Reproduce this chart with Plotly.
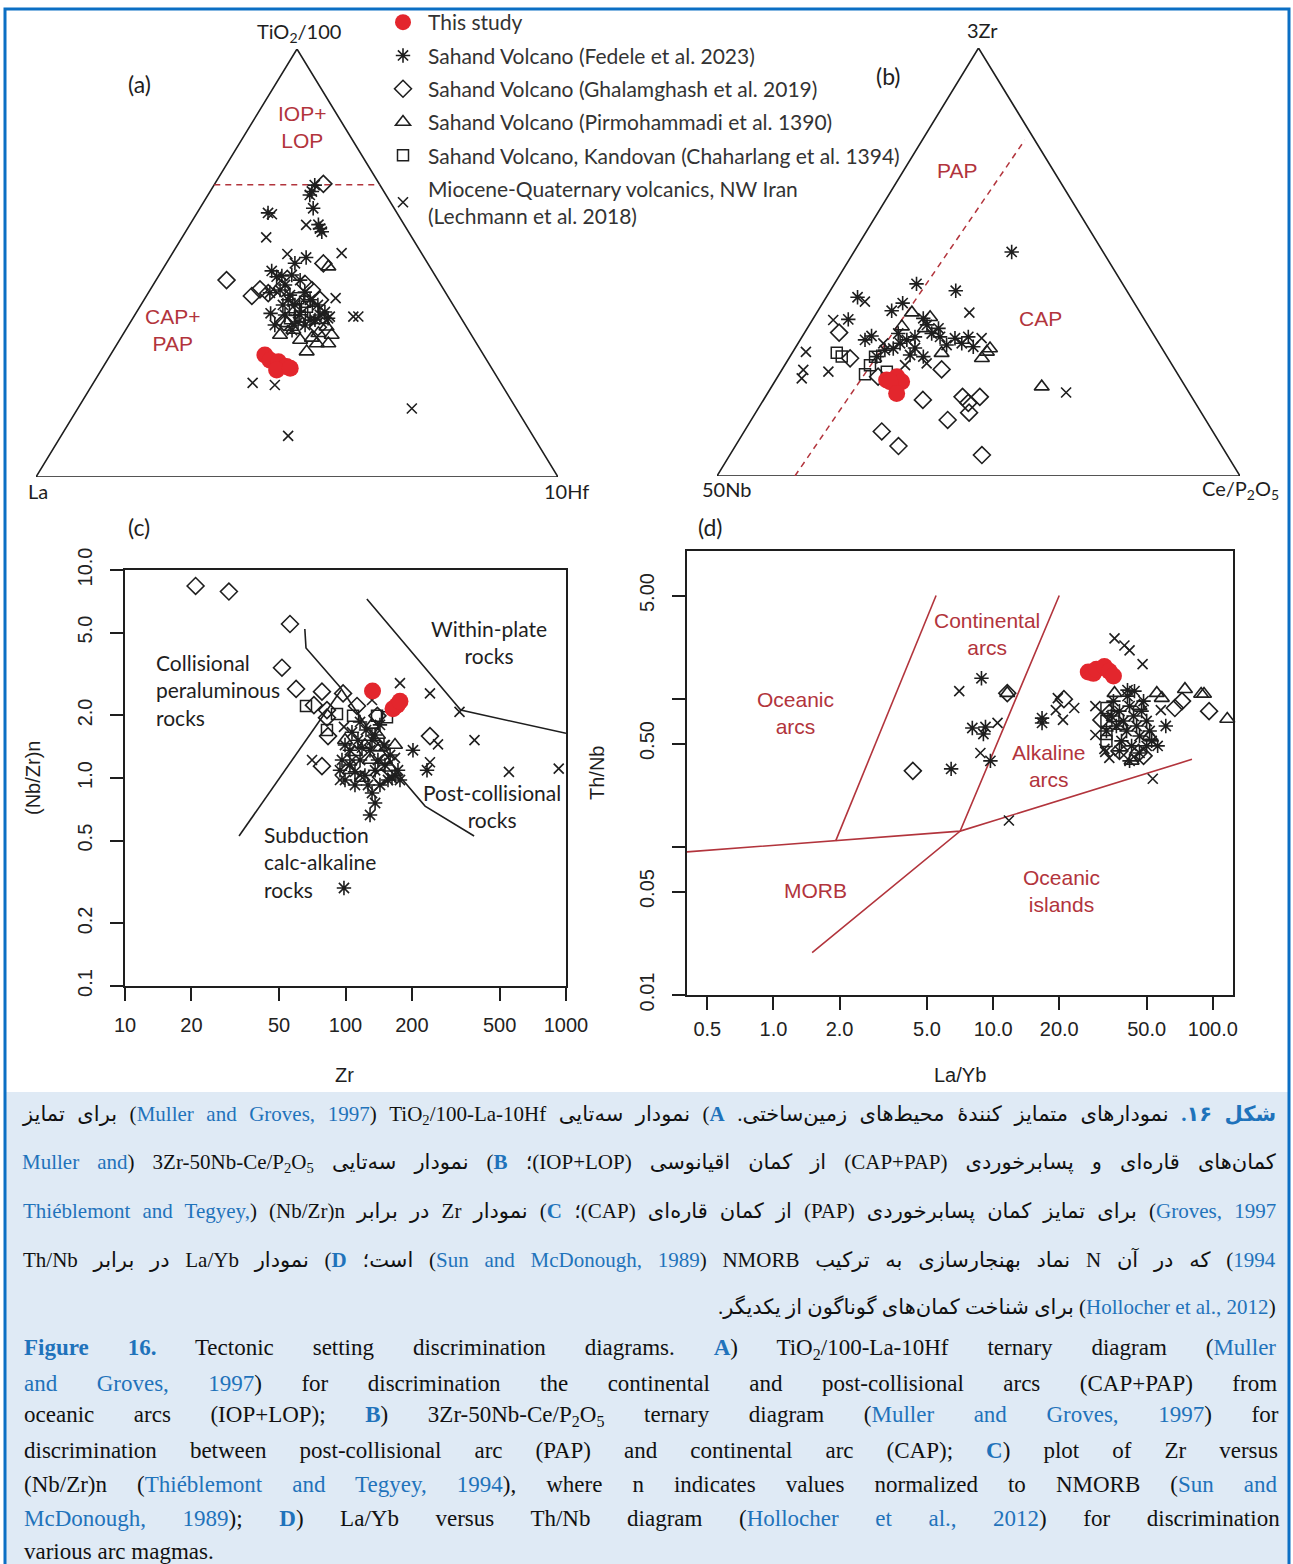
import math
import plotly.graph_objects as go

# ---------------- page geometry (pixels) ----------------
FIG_W, FIG_H = 1293, 1564
TRI_H = math.sqrt(3) / 2


def fx(p):
    return p / FIG_W


def fy(p):
    return 1 - p / FIG_H


RED = "#e3262d"
REGION_RED = "#b2343c"
INK = "#1e1e1e"
CITE_BLUE = "#1f73bb"
FRAME_BLUE = "#0b6fc4"
CAPTION_BG = "#dfeaf5"

# ---------------- series ----------------
NAMES = {
    "this": "This study",
    "fedele": "Sahand Volcano (Fedele et al. 2023)",
    "ghal": "Sahand Volcano (Ghalamghash et al. 2019)",
    "pirm": "Sahand Volcano (Pirmohammadi et al. 1390)",
    "chah": "Sahand Volcano, Kandovan (Chaharlang et al. 1394)",
    "lech": "Miocene-Quaternary volcanics, NW Iran<br>(Lechmann et al. 2018)",
}

# ---------------- (a) TiO2/100 - La - 10Hf, tuples = (TiO2/100, La, 10Hf) % ----------------
a_this_study = [(28.5, 41.9, 29.6), (27.3, 41.5, 31.2), (26.9, 40.1, 33.0),
                (25.8, 39.1, 35.1), (25.0, 41.4, 33.6), (25.4, 38.6, 36.0)]
a_fedele = [(68.2, 12.5, 19.3), (66.7, 13.8, 19.5), (65.9, 14.6, 19.5), (62.8, 15.5, 21.7),
            (58.9, 16.4, 24.6), (58.1, 16.6, 25.4), (57.3, 16.6, 26.1), (61.7, 24.7, 13.6),
            (51.3, 22.6, 26.1), (49.9, 25.4, 24.6), (48.2, 30.8, 21.1), (46.8, 30.5, 22.7),
            (47.0, 29.4, 23.6), (46.0, 26.4, 27.6), (43.1, 33.7, 23.3), (38.2, 35.9, 25.8),
            (44.9, 29.9, 25.3), (42.5, 30.1, 27.4), (40.2, 30.3, 29.5), (37.9, 30.5, 31.6),
            (35.5, 30.7, 33.8), (37.9, 33.4, 28.8), (41.4, 26.8, 31.8), (36.7, 28.2, 35.1),
            (41.4, 31.0, 27.6), (43.7, 31.4, 24.9), (36.2, 31.7, 32.1), (37.9, 26.7, 35.5),
            (47.2, 27.4, 25.4), (43.2, 26.9, 29.9), (40.2, 25.9, 33.9), (38.6, 25.4, 36.1),
            (36.7, 29.2, 34.2), (34.3, 33.8, 31.9), (40.2, 32.6, 27.2), (35.5, 36.5, 28.0),
            (37.1, 25.5, 37.4)]
a_ghalamghash = [(68.5, 10.7, 20.8), (46.0, 40.5, 13.5), (42.3, 37.5, 20.2), (43.9, 35.2, 21.0),
                 (42.9, 34.0, 23.0), (43.7, 25.3, 31.0), (45.1, 25.9, 29.0), (49.9, 20.0, 30.1),
                 (44.1, 30.9, 25.0), (40.0, 29.4, 30.6), (36.2, 34.4, 29.4), (35.0, 28.5, 36.5),
                 (41.4, 24.9, 33.7)]
a_pirmohammadi = [(49.1, 19.4, 31.4), (33.2, 36.7, 30.2), (29.3, 33.5, 37.2), (31.2, 30.6, 38.2),
                  (31.2, 28.4, 40.4), (33.2, 26.8, 40.1), (35.1, 26.8, 38.1), (33.6, 29.1, 37.3),
                  (34.3, 33.5, 32.1), (35.9, 34.0, 30.1), (36.7, 26.9, 36.5), (32.5, 30.9, 36.6),
                  (32.0, 33.4, 34.6)]
a_chaharlang = [(41.8, 28.9, 29.4), (41.0, 28.0, 31.1), (39.8, 28.2, 32.0),
                (39.0, 30.9, 30.1), (37.5, 30.7, 31.8), (38.6, 27.6, 33.8), (37.1, 32.8, 30.1)]
a_lechmann = [(61.4, 24.1, 14.5), (58.9, 18.8, 22.3), (56.0, 27.9, 16.1), (52.1, 25.8, 22.1),
              (52.3, 15.3, 32.4), (41.8, 21.7, 36.5), (37.5, 25.0, 37.6), (37.5, 20.5, 42.1),
              (37.5, 19.5, 43.0), (22.0, 47.5, 30.5), (21.5, 43.5, 35.0), (16.0, 20.0, 64.0),
              (9.6, 46.9, 43.5)]
a_boundary = [(68.3, 31.7, 0.0), (68.3, 0.0, 31.7)]          # IOP+LOP / CAP+PAP

# ---------------- (b) 3Zr - 50Nb - Ce/P2O5, tuples = (3Zr, 50Nb, Ce/P2O5) % ----------------
b_this_study = [(22.4, 56.3, 21.2), (23.2, 54.0, 22.8), (22.0, 53.7, 24.3),
                (22.0, 55.9, 22.1), (19.3, 56.0, 24.7)]
b_fedele = [(52.4, 17.5, 30.2), (44.9, 39.4, 15.7), (43.3, 32.7, 24.0), (41.8, 52.3, 6.0),
            (36.6, 56.6, 6.8), (38.6, 47.3, 14.1), (40.4, 44.3, 15.3), (31.8, 55.8, 12.4),
            (32.7, 54.1, 13.2), (33.3, 48.7, 18.0), (31.8, 47.8, 20.4), (32.5, 45.9, 21.6),
            (36.8, 42.1, 21.0), (33.3, 42.3, 24.4), (34.5, 40.4, 25.1), (30.6, 40.8, 28.6),
            (31.0, 37.7, 31.3), (32.5, 35.7, 31.8), (27.9, 46.6, 25.5), (29.8, 51.4, 18.8),
            (27.9, 55.5, 16.6), (31.0, 49.5, 19.5), (32.5, 41.1, 26.4), (30.2, 35.9, 33.9),
            (28.3, 49.0, 22.8), (29.9, 47.2, 22.9), (32.2, 38.4, 29.4), (29.4, 53.2, 17.4),
            (35.3, 42.2, 22.5)]
b_ghalamghash = [(33.5, 59.9, 6.6), (27.5, 60.8, 11.7), (24.9, 44.6, 30.5), (17.8, 51.8, 30.5),
                 (18.5, 43.8, 37.7), (18.5, 40.5, 41.0), (17.1, 43.4, 39.5), (14.8, 44.4, 40.8),
                 (13.1, 49.4, 37.6), (10.4, 63.3, 26.3), (7.0, 61.8, 31.2), (4.9, 46.9, 48.2),
                 (23.2, 57.6, 19.2)]
b_pirmohammadi = [(38.2, 43.7, 18.2), (37.1, 40.7, 22.2), (34.9, 47.2, 17.9), (34.5, 43.0, 22.5),
                  (28.7, 42.7, 28.6), (27.5, 35.6, 36.9), (29.0, 33.9, 37.1), (29.8, 32.9, 37.3),
                  (20.9, 27.5, 51.7)]
b_chaharlang = [(28.8, 62.7, 8.5), (27.9, 62.2, 9.9), (23.8, 59.8, 16.4),
                (25.9, 57.8, 16.3), (27.9, 55.9, 16.3), (24.4, 55.4, 20.3)]
b_lechmann = [(40.7, 51.3, 7.9), (36.4, 59.5, 4.0), (29.0, 68.5, 2.5), (24.8, 71.1, 4.1),
              (22.8, 72.4, 4.8), (24.4, 66.5, 9.1), (38.2, 32.7, 29.2), (32.2, 33.3, 34.5),
              (25.9, 51.1, 23.0), (26.3, 46.7, 26.9), (19.5, 23.5, 57.0), (31.0, 52.7, 16.3)]
b_boundary = [(0.0, 85.1, 14.9), (78.5, 1.9, 19.6)]           # PAP / CAP

# ---------------- (c) Zr vs (Nb/Zr)n ----------------
c_zr_this = [132.6, 164.2, 171.3, 176.6]
c_nbzr_this = [2.62, 2.15, 2.24, 2.34]
c_zr_fedele = [202.3, 234.2, 131.9, 136.2, 129.2, 98.4, 162.5, 94.4, 99.5, 104.7, 110.4, 116.4,
               122.5, 129.2, 136.2, 143.3, 151.0, 159.3, 167.7, 176.6, 104.7, 113.9, 123.9, 131.9,
               143.3, 116.4, 99.5, 96.4, 110.4, 126.5, 140.3, 155.9, 173.0, 118.8, 136.2, 107.0, 149.5]
c_nbzr_fedele = [1.36, 1.09, 0.847, 0.758, 0.664, 0.296, 1.00, 1.09, 0.978, 1.155, 0.925, 1.22,
                 1.03, 1.36, 1.09, 0.925, 1.155, 1.29, 1.03, 0.978, 1.36, 1.52, 1.70, 1.52,
                 1.80, 1.86, 1.44, 1.22, 1.07, 0.925, 1.22, 0.978, 1.09, 1.40, 1.61, 1.66, 1.44]
c_zr_ghalamghash = [20.9, 29.6, 56.0, 51.5, 59.7, 78.2, 97.5, 112.8, 71.9, 82.4, 82.4, 83.3,
                    78.2, 241.6, 144.8, 139.5]
c_nbzr_ghalamghash = [8.38, 7.88, 5.50, 3.39, 2.68, 2.60, 2.55, 2.22, 2.24, 2.12, 1.95, 1.59,
                      1.14, 1.59, 1.01, 1.99]
c_zr_pirmohammadi = [99.5, 110.4, 122.5, 140.3, 151.0, 159.3, 118.8, 104.7, 131.9, 143.3, 167.7, 129.2]
c_nbzr_pirmohammadi = [1.52, 1.33, 1.44, 1.61, 1.22, 1.12, 1.00, 1.09, 1.80, 1.40, 1.44, 1.22]
c_zr_chaharlang = [66.2, 91.5, 108.2, 139.0, 154.2, 82.4]
c_nbzr_chaharlang = [2.22, 2.03, 1.99, 1.99, 1.96, 1.70]
c_zr_lechmann = [176.6, 241.6, 328.9, 384.6, 262.7, 241.6, 551.0, 926.8, 70.5, 98.4, 94.4,
                 131.9, 167.7, 116.4, 151.0, 107.0]
c_nbzr_lechmann = [2.86, 2.55, 2.08, 1.52, 1.45, 1.19, 1.07, 1.11, 1.22, 1.76, 0.978,
                   2.37, 1.25, 1.03, 1.44, 1.22]
# field boundaries
c_zr_collisional = [65.4, 66.2, 94.4, 182.0, 229.5, 383.0]
c_nbzr_collisional = [5.2, 4.22, 2.74, 0.978, 0.733, 0.526]
c_zr_subduction = [32.9, 95.5]
c_nbzr_subduction = [0.526, 2.65]
c_zr_withinplate = [125.0, 333.0, 1000.0]
c_nbzr_withinplate = [7.26, 2.12, 1.64]

# ---------------- (d) La/Yb vs Th/Nb ----------------
d_layb_this = [27.1, 28.6, 29.5, 32.1, 33.8, 35.3]
d_thnb_this = [1.52, 1.49, 1.59, 1.66, 1.54, 1.43]
d_layb_fedele = [8.85, 8.04, 9.23, 9.03, 6.44, 9.72, 16.7, 16.7, 40.9, 56.1, 61.1,
                 35.3, 37.6, 39.2, 41.8, 43.6, 45.0, 46.4, 40.5, 36.4, 38.4, 42.7, 47.4,
                 50.0, 51.6, 48.4, 40.9, 34.5, 32.8, 52.7, 44.0, 37.6, 46.4, 41.8, 50.0]
d_thnb_fedele = [1.38, 0.637, 0.647, 0.580, 0.337, 0.382, 0.743, 0.689, 1.148, 0.482, 0.657,
                 0.968, 0.828, 0.710, 0.895, 0.767, 0.657, 0.562, 0.608, 0.657, 0.521, 0.482, 0.828,
                 0.710, 0.608, 0.968, 1.045, 0.767, 0.608, 0.521, 1.13, 0.446, 0.432, 0.382, 0.482]
d_layb_ghalamghash = [4.31, 11.6, 21.0, 31.1, 96.2, 72.4, 67.2, 48.4, 45.9, 37.6, 33.8]
d_thnb_ghalamghash = [0.327, 1.095, 0.998, 0.722, 0.828, 0.968, 0.869, 0.413, 0.432, 0.446, 0.803]
d_layb_pirmohammadi = [11.6, 35.7, 55.6, 74.7, 88.5, 91.2, 116.4, 51.6, 42.7, 58.6, 46.4, 38.4]
d_thnb_pirmohammadi = [1.095, 1.095, 1.095, 1.165, 1.08, 1.08, 0.733, 0.562, 0.382, 1.014, 0.895, 0.657]
d_layb_chaharlang = [32.8, 32.8, 32.8, 32.8, 35.3]
d_thnb_chaharlang = [0.869, 0.710, 0.580, 0.521, 0.767]
d_layb_lechmann = [35.7, 39.6, 41.8, 47.9, 7.01, 19.7, 19.3, 20.8, 23.4, 29.2, 29.2, 33.8, 53.3,
                   10.47, 8.75, 11.8, 32.1, 58.0, 32.4]
d_thnb_lechmann = [2.57, 2.30, 2.13, 1.72, 1.13, 1.014, 0.841, 0.722, 0.869, 0.895, 0.571, 0.400,
                   0.289, 0.689, 0.432, 0.151, 0.460, 0.841, 0.439]
# field boundaries
d_layb_base = [0.398, 1.92, 7.08, 80.4]
d_thnb_base = [0.0925, 0.110, 0.128, 0.391]
d_layb_oceanic = [1.92, 5.5]
d_thnb_oceanic = [0.110, 5.0]
d_layb_middle = [1.5, 7.08, 20.0]
d_thnb_middle = [0.0193, 0.128, 5.0]

# ---------------- tick labels ----------------
c_x_ticks = [10, 20, 50, 100, 200, 500, 1000]
c_x_labels = ["10", "20", "50", "100", "200", "500", "1000"]
c_y_ticks = [0.1, 0.2, 0.5, 1, 2, 5, 10]
c_y_labels = ["0.1", "0.2", "0.5", "1.0", "2.0", "5.0", "10.0"]
d_x_ticks = [0.5, 1, 2, 5, 10, 20, 50, 100]
d_x_labels = ["0.5", "1.0", "2.0", "5.0", "10.0", "20.0", "50.0", "100.0"]
d_y_ticks = [0.01, 0.05, 0.1, 0.5, 1, 5]
d_y_labels = ["0.01", "0.05", "", "0.50", "", "5.00"]

# ---------------- marker styles ----------------
STYLE = {
    "this": dict(symbol="circle", size=17, color=RED, line=dict(width=0)),
    "fedele": dict(symbol="asterisk-open", size=12, color=INK, line=dict(width=1.6, color=INK)),
    "ghal": dict(symbol="diamond-open", size=13, color=INK, line=dict(width=1.6, color=INK)),
    "pirm": dict(symbol="triangle-up-open", size=13, color=INK, line=dict(width=1.6, color=INK)),
    "chah": dict(symbol="square-open", size=11, color=INK, line=dict(width=1.5, color=INK)),
    "lech": dict(symbol="x-thin-open", size=10, color=INK, line=dict(width=1.6, color=INK)),
}
RANK = {"this": 1, "fedele": 2, "ghal": 3, "pirm": 4, "chah": 5, "lech": 6}
DRAW_ORDER = ["lech", "chah", "pirm", "ghal", "fedele", "this"]

fig = go.Figure()


def tern_xy(points):
    """(top, left, right) compositions -> cartesian position inside the triangle."""
    xs, ys = [], []
    for top, left, right in points:
        s = top + left + right
        xs.append((right + top / 2) / s)
        ys.append(top / s * TRI_H)
    return xs, ys


def add_markers(key, xs, ys, xa, ya, legend=False):
    fig.add_trace(go.Scatter(
        x=xs, y=ys, mode="markers", name=NAMES[key], legendgroup=key,
        legendrank=RANK[key], showlegend=legend, marker=STYLE[key],
        xaxis=xa, yaxis=ya, cliponaxis=False, hoverinfo="skip"))


def add_line(xs, ys, xa, ya, color=INK, dash="solid", width=1.6):
    fig.add_trace(go.Scatter(
        x=xs, y=ys, mode="lines", line=dict(color=color, width=width, dash=dash),
        xaxis=xa, yaxis=ya, showlegend=False, cliponaxis=False, hoverinfo="skip"))


corners = [(100, 0, 0), (0, 100, 0), (0, 0, 100), (100, 0, 0)]

# ---- panel (a)
add_line(*tern_xy(corners), "x", "y")
add_line(*tern_xy(a_boundary), "x", "y", color=REGION_RED, dash="6px,5px", width=1.5)
a_sets = {"this": a_this_study, "fedele": a_fedele, "ghal": a_ghalamghash,
          "pirm": a_pirmohammadi, "chah": a_chaharlang, "lech": a_lechmann}
for k in DRAW_ORDER:
    add_markers(k, *tern_xy(a_sets[k]), "x", "y", legend=True)

# ---- panel (b)
add_line(*tern_xy(corners), "x2", "y2")
add_line(*tern_xy(b_boundary), "x2", "y2", color=REGION_RED, dash="6px,5px", width=1.5)
b_sets = {"this": b_this_study, "fedele": b_fedele, "ghal": b_ghalamghash,
          "pirm": b_pirmohammadi, "chah": b_chaharlang, "lech": b_lechmann}
for k in DRAW_ORDER:
    add_markers(k, *tern_xy(b_sets[k]), "x2", "y2")

# ---- panel (c)
add_line(c_zr_collisional, c_nbzr_collisional, "x3", "y3")
add_line(c_zr_subduction, c_nbzr_subduction, "x3", "y3")
add_line(c_zr_withinplate, c_nbzr_withinplate, "x3", "y3")
c_sets = {"this": (c_zr_this, c_nbzr_this), "fedele": (c_zr_fedele, c_nbzr_fedele),
          "ghal": (c_zr_ghalamghash, c_nbzr_ghalamghash),
          "pirm": (c_zr_pirmohammadi, c_nbzr_pirmohammadi),
          "chah": (c_zr_chaharlang, c_nbzr_chaharlang), "lech": (c_zr_lechmann, c_nbzr_lechmann)}
for k in DRAW_ORDER:
    add_markers(k, *c_sets[k], "x3", "y3")

# ---- panel (d)
add_line(d_layb_base, d_thnb_base, "x4", "y4", color=REGION_RED)
add_line(d_layb_oceanic, d_thnb_oceanic, "x4", "y4", color=REGION_RED)
add_line(d_layb_middle, d_thnb_middle, "x4", "y4", color=REGION_RED)
d_sets = {"this": (d_layb_this, d_thnb_this), "fedele": (d_layb_fedele, d_thnb_fedele),
          "ghal": (d_layb_ghalamghash, d_thnb_ghalamghash),
          "pirm": (d_layb_pirmohammadi, d_thnb_pirmohammadi),
          "chah": (d_layb_chaharlang, d_thnb_chaharlang), "lech": (d_layb_lechmann, d_thnb_lechmann)}
for k in DRAW_ORDER:
    add_markers(k, *d_sets[k], "x4", "y4")

# ---------------- axes ----------------
hidden = dict(visible=False, showgrid=False, zeroline=False, fixedrange=True)
TICKFONT = dict(family="Liberation Sans, Arial, sans-serif", size=20, color="#222")
frame = dict(showline=True, mirror=True, linecolor=INK, linewidth=1.6, showgrid=False,
             zeroline=False, ticks="outside", tickwidth=1.6, tickcolor=INK, ticklen=13,
             tickfont=TICKFONT, fixedrange=True)

layout_axes = dict(
    xaxis=dict(domain=[fx(36), fx(558)], range=[0, 1], anchor="y", **hidden),
    yaxis=dict(domain=[fy(477), fy(49)], range=[0, TRI_H], anchor="x", **hidden),
    xaxis2=dict(domain=[fx(717), fx(1240)], range=[0, 1], anchor="y2", **hidden),
    yaxis2=dict(domain=[fy(476), fy(48)], range=[0, TRI_H], anchor="x2", **hidden),
    xaxis3=dict(domain=[fx(125), fx(566)], type="log", range=[1, 3], anchor="y3",
                tickvals=c_x_ticks, ticktext=c_x_labels, ticklabelstandoff=7, **frame),
    yaxis3=dict(domain=[fy(986), fy(570)], type="log", range=[-1, 1], anchor="x3",
                tickvals=c_y_ticks, ticktext=c_y_labels, tickangle=-90,
                ticklabelstandoff=10, **frame),
    xaxis4=dict(domain=[fx(687), fx(1233)], type="log",
                range=[math.log10(0.404), math.log10(123.6)], anchor="y4",
                tickvals=d_x_ticks, ticktext=d_x_labels, ticklabelstandoff=2, **frame),
    yaxis4=dict(domain=[fy(995), fy(551)], type="log", range=[-2, 1], anchor="x4",
                tickvals=d_y_ticks, ticktext=d_y_labels, tickangle=-90,
                ticklabelstandoff=10, **frame),
)

# ---------------- in-plot text ----------------
ann = []


def text(px, py, s, size=20, color=INK, family="Liberation Sans, Arial, sans-serif",
         xanchor="center", align="center", angle=0):
    ann.append(dict(x=fx(px), y=fy(py), xref="paper", yref="paper", text=s, showarrow=False,
                    xanchor=xanchor, yanchor="middle", align=align, textangle=angle,
                    font=dict(family=family, size=size, color=color)))


LATO = "Lato, Open Sans, sans-serif"
# panel tags
text(139, 84, "(a)", 23, family=LATO)
text(888, 76, "(b)", 23, family=LATO)
text(139, 527, "(c)", 23, family=LATO)
text(710, 527, "(d)", 23, family=LATO)
# ternary apices
text(299, 32, "TiO<sub>2</sub>/100", 20, family=LATO)
text(38, 491, "La", 20, family=LATO)
text(566, 491, "10Hf", 20, family=LATO)
text(982, 30, "3Zr", 20, family=LATO)
text(727, 489, "50Nb", 20, family=LATO)
text(1240, 489, "Ce/P<sub>2</sub>O<sub>5</sub>", 20, family=LATO)
# ternary fields
text(302, 127, "IOP+<br>LOP", 21, REGION_RED)
text(172, 330, "CAP+<br>PAP", 21, REGION_RED)
text(957, 170, "PAP", 21, REGION_RED)
text(1040, 318, "CAP", 21, REGION_RED)
# panel (c) fields
text(154, 690, "Collisional<br>peraluminous<br>rocks", 21, family=LATO, xanchor="left", align="left")
text(489, 642, "Within-plate<br>rocks", 21, family=LATO)
text(492, 806, "Post-collisional<br>rocks", 21, family=LATO)
text(262, 862, "Subduction<br>calc-alkaline<br>rocks", 21, family=LATO, xanchor="left", align="left")
# panel (d) fields
text(987, 634, "Continental<br>arcs", 21, REGION_RED)
text(795, 713, "Oceanic<br>arcs", 21, REGION_RED)
text(1049, 766, "Alkaline<br>arcs", 21, REGION_RED)
text(815, 890, "MORB", 21, REGION_RED)
text(1061, 891, "Oceanic<br>islands", 21, REGION_RED)
# axis titles
text(345, 1075, "Zr", 20)
text(960, 1075, "La/Yb", 20)
text(33, 778, "(Nb/Zr)n", 20, angle=-90)
text(597, 773, "Th/Nb", 20, angle=-90)

# ---------------- caption ----------------
# approximate Times advance widths (1/1000 em) used to justify the English lines
TIMES_W = {}
for chars, w in [(" ,.", 250), ("()-frI[]", 333), ("/ilt;:", 278), ("+", 564),
                 ("0123456789abdghknopquvxy", 500), ("ceéz", 444), ("sJ", 389), ("m", 778),
                 ("w", 722), ("ADGHKNOQUVXY", 722), ("BCR", 667), ("ELTZ", 611),
                 ("FPS", 556), ("M", 889), ("W", 944)]:
    for ch in chars:
        TIMES_W[ch] = w

CAP_SIZE = 23
FA_SIZE = 21
RLM, RLE, LRE, PDF = "\u200f", "\u202b", "\u202a", "\u202c"


def seg_html(t, kind, ws):
    sp = f"word-spacing:{ws:.2f}px"
    if kind == "b":
        return f'<b><span style="color:{CITE_BLUE};{sp}">{t}</span></b>'
    if kind == "c":
        return f'<span style="color:{CITE_BLUE};{sp}">{t}</span>'
    if kind == "sub":
        return f"<sub>{t}</sub>"
    return f'<span style="{sp}">{t}</span>'


def natural_width(segs, size):
    total = 0.0
    for t, kind in segs:
        scale = 0.7 if kind == "sub" else (1.03 if kind == "b" else 1.0)
        total += sum(TIMES_W.get(ch, 500) for ch in t) * scale
    return total * size / 1000


en_lines = [
    [("Figure 16.", "b"), (" Tectonic setting discrimination diagrams. ", "n"), ("A", "b"),
     (") TiO", "n"), ("2", "sub"), ("/100-La-10Hf ternary diagram (", "n"), ("Muller", "c")],
    [("and Groves, 1997", "c"),
     (") for discrimination the continental and post-collisional arcs (CAP+PAP) from", "n")],
    [("oceanic arcs (IOP+LOP); ", "n"), ("B", "b"), (") 3Zr-50Nb-Ce/P", "n"), ("2", "sub"),
     ("O", "n"), ("5", "sub"), (" ternary diagram (", "n"), ("Muller and Groves, 1997", "c"),
     (") for", "n")],
    [("discrimination between post-collisional arc (PAP) and continental arc (CAP); ", "n"),
     ("C", "b"), (") plot of Zr versus", "n")],
    [("(Nb/Zr)n (", "n"), ("Thiéblemont and Tegyey, 1994", "c"),
     ("), where n indicates values normalized to NMORB (", "n"), ("Sun and", "c")],
    [("McDonough, 1989", "c"), ("); ", "n"), ("D", "b"), (") La/Yb versus Th/Nb diagram (", "n"),
     ("Hollocher et al., 2012", "c"), (") for discrimination", "n")],
    [("various arc magmas.", "n")],
]
en_y = [1349, 1383, 1416, 1450, 1484, 1518, 1551]
EN_TARGET = 1263
for i, segs in enumerate(en_lines):
    ws = 0.0
    if i < len(en_lines) - 1:
        n_sp = sum(t.count(" ") for t, _ in segs)
        ws = max(0.0, (EN_TARGET - natural_width(segs, CAP_SIZE)) / max(n_sp, 1))
    html = "".join(seg_html(t, k, ws) for t, k in segs)
    text(22, en_y[i], html, CAP_SIZE, "#111", "Liberation Serif, Times New Roman, serif",
         xanchor="left", align="left")

fa_lines = [
    [("شکل ۱۶.", "b"), (" نمودارهای متمایز کنندۀ محیط‌های زمین‌ساختی. ", "n"), ("A", "b"),
     (") نمودار سه‌تایی TiO", "n"), ("2", "sub"), ("/100-La-10Hf" + RLM + " (", "n"),
     ("Muller and Groves, 1997", "c"), (") برای تمایز", "n")],
    [("کمان‌های قاره‌ای و پسابرخوردی (CAP+PAP) از کمان اقیانوسی (IOP+LOP)؛ ", "n"), ("B", "b"),
     (") نمودار سه‌تایی 3Zr-50Nb-Ce/P", "n"), ("2", "sub"), ("O", "n"), ("5", "sub"),
     (RLM + " (" + RLM, "n"), ("Muller and", "c")],
    [("Groves, 1997", "c"), (") برای تمایز کمان پسابرخوردی (PAP) از کمان قاره‌ای (CAP)؛ ", "n"),
     ("C", "b"), (") نمودار Zr در برابر " + LRE + "(Nb/Zr)n" + PDF + " (" + RLM, "n"),
     (LRE + "Thiéblemont and Tegyey," + PDF, "c")],
    [("1994", "c"), (") که در آن N نماد بهنجارسازی به ترکیب NMORB" + RLM + " (", "n"),
     ("Sun and McDonough, 1989", "c"), (") است؛ ", "n"), ("D", "b"),
     (") نمودار La/Yb در برابر Th/Nb", "n")],
    [("(", "n"), ("Hollocher et al., 2012", "c"), (") برای شناخت کمان‌های گوناگون از یکدیگر.", "n")],
]
fa_y = [1115, 1163, 1211, 1259, 1307]
fa_ws = [7.3, 12.8, 6.9, 10.5, 0]
for i, segs in enumerate(fa_lines):
    html = RLE + "".join(seg_html(t, k, fa_ws[i]) for t, k in segs) + PDF
    text(1278, fa_y[i], html, FA_SIZE, "#111", "Liberation Serif, DejaVu Sans, serif",
         xanchor="right", align="right")

# ---------------- page furniture ----------------
shapes = [
    dict(type="rect", xref="paper", yref="paper", x0=fx(5), x1=fx(1289), y0=fy(1566), y1=fy(1092),
         fillcolor=CAPTION_BG, line=dict(width=0), layer="below"),
    dict(type="rect", xref="paper", yref="paper", x0=fx(5), x1=fx(1289), y0=fy(1566), y1=fy(9),
         fillcolor="rgba(0,0,0,0)", line=dict(color=FRAME_BLUE, width=3)),
]

fig.update_layout(
    width=FIG_W, height=FIG_H, margin=dict(l=0, r=0, t=0, b=0, autoexpand=False),
    paper_bgcolor="white", plot_bgcolor="rgba(0,0,0,0)",
    showlegend=True,
    legend=dict(x=fx(378), y=fy(2), xanchor="left", yanchor="top",
                bgcolor="rgba(0,0,0,0)", traceorder="grouped", tracegroupgap=3,
                itemsizing="trace", itemwidth=40,
                font=dict(family=LATO, size=21, color="#333")),
    annotations=ann, shapes=shapes,
    **layout_axes,
)

fig.write_html("out.html")
